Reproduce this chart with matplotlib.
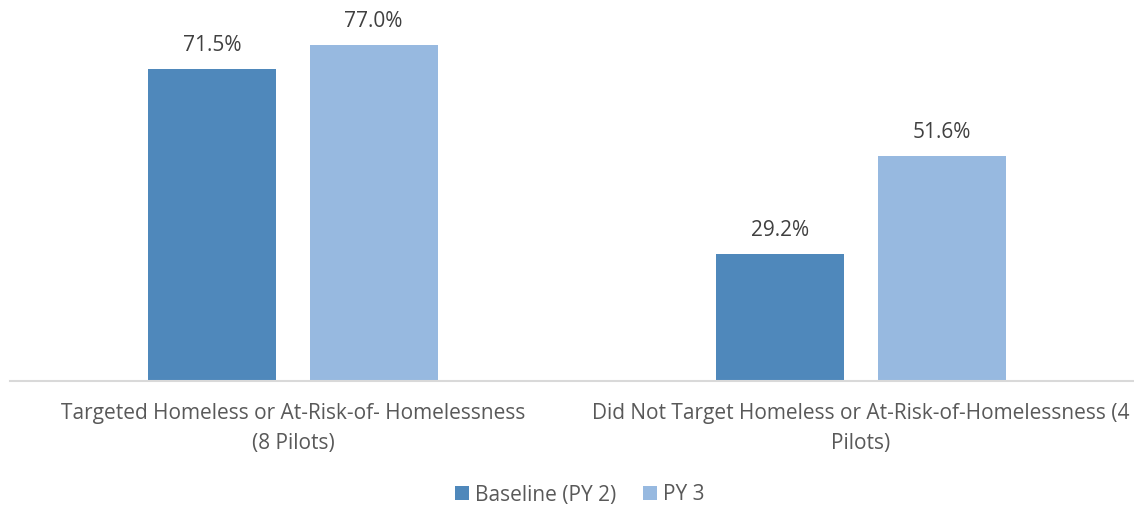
import matplotlib
matplotlib.use("Agg")
import matplotlib.pyplot as plt
from matplotlib.patches import Patch

categories = ["Targeted Homeless or At-Risk-of- Homelessness\n(8 Pilots)",
              "Did Not Target Homeless or At-Risk-of-Homelessness (4\nPilots)"]
series_names = ["Baseline (PY 2)", "PY 3"]
baseline = [71.5, 29.2]
py3 = [77.0, 51.6]
colors = ["#4F88BB", "#97B9E0"]

plt.rcParams['font.family'] = ['Open Sans', 'DejaVu Sans']

fig = plt.figure(figsize=(11.34, 5.08), dpi=100)
W, H = 1134, 508
ax = fig.add_axes([10 / W, (H - 381) / H, 1124 / W, 381 / H])

x = list(range(len(categories)))
width = 0.225
off = 0.142
for i, (vals, c) in enumerate(zip([baseline, py3], colors)):
    pos = [xi + (-off if i == 0 else off) for xi in x]
    bars = ax.bar(pos, vals, width=width, color=c, zorder=2)
    for b, v in zip(bars, vals):
        ax.annotate(f"{v:.1f}%", (b.get_x() + b.get_width() / 2, v),
                    xytext=(0, 9), textcoords="offset points",
                    ha="center", va="bottom", fontsize=15, color="#404040")

ax.set_xlim(-0.4982, 1.4807)
ax.set_ylim(0, 87.3)
ax.set_xticks(x)
ax.set_xticklabels(categories, fontsize=15, color="#595959", linespacing=1.55)
ax.tick_params(axis='x', length=0, pad=16)
ax.set_yticks([])
for s in ["top", "right", "left"]:
    ax.spines[s].set_visible(False)
ax.spines["bottom"].set_color("#D9D9D9")
ax.spines["bottom"].set_linewidth(1.5)
ax.patch.set_visible(False)

handles = [Patch(facecolor=c, label=n) for c, n in zip(colors, series_names)]
fig.legend(handles=handles, loc="center", bbox_to_anchor=(580 / W, (H - 495) / H),
           ncol=2, frameon=False, fontsize=15, handlelength=0.65, handleheight=0.65,
           handletextpad=0.3, columnspacing=1.3, labelcolor="#595959")

fig.savefig("out.png", dpi=100)
